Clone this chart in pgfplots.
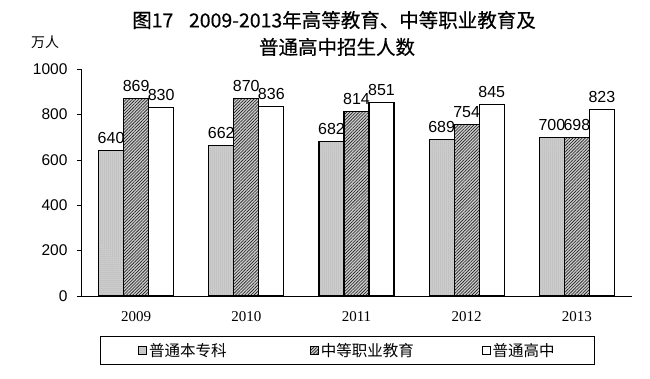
\documentclass[border=0pt]{standalone}
\usepackage{fontspec}
\usepackage{pgfplots}
\pgfplotsset{compat=1.18}
\usetikzlibrary{patterns.meta}
\setmainfont{Liberation Sans}
\newfontfamily\cjk{Noto Sans CJK SC}
\newfontfamily\cjkb[FakeBold=0.5]{Noto Sans CJK SC}
\newfontfamily\serifyear{Liberation Serif}
\begin{document}
\begin{tikzpicture}[x=1pt,y=1pt]
\path[use as bounding box] (0,0) rectangle (650,378);
\node[font=\cjkb\fontsize{19.5}{19.5}\selectfont] at (334,358) {图17\hspace{0.8em}2009-2013年高等教育、中等职业教育及};
\node[font=\cjkb\fontsize{19.5}{19.5}\selectfont] at (337,331) {普通高中招生人数};
\node[font=\cjk\fontsize{14}{14}\selectfont] at (45,336) {万人};
\begin{axis}[
  at={(81pt,82pt)}, anchor=south west,
  scale only axis, width=551pt, height=227pt,
  xmin=-0.5, xmax=4.5, ymin=0, ymax=1000,
  ytick={0,200,...,1000},
  axis x line*=bottom, axis y line*=left,
  axis line style={black, line width=0.6pt, -},
  xtick={0,1,2,3,4},
  xticklabels={2009,2010,2011,2012,2013},
  xtick style={draw=none},
  extra x ticks={0.5,1.5,2.5,3.5,4.5},
  extra x tick labels={},
  extra x tick style={major tick length=4pt, tick align=center, tick style={black, line width=0.5pt}},
  xticklabel style={font=\serifyear\fontsize{15}{15}\selectfont, yshift=-8pt},
  ytick style={black, line width=0.6pt},
  tick align=outside, major tick length=4pt,
  yticklabel style={font=\fontsize{15.5}{15.5}\selectfont, xshift=-6pt},
  /pgf/number format/assume math mode=true,
  /pgf/number format/1000 sep={},
  ybar, bar width=0.227,
  nodes near coords,
  every node near coord/.append style={font=\fontsize{16}{16}\selectfont, yshift=3pt, black},
  legend columns=3,
  legend style={at={(0.0345,-0.304)}, anchor=south west, draw=black, line width=0.8pt,
    font=\cjk\fontsize{15.5}{15.5}\selectfont, inner xsep=38pt, inner ysep=5pt},
  legend image code/.code={\draw[#1, line width=0.7pt] (0pt,-4pt) rectangle (8pt,4pt);},
]
\addplot[bar shift=-0.227, draw=black, line width=1.1pt, fill=gray!35,
  postaction={pattern={Dots[distance=2pt,radius=0.5pt]}, pattern color=gray!90}]
  coordinates {(0,640)(1,662)(2,682)(3,689)(4,700)};
\addlegendentry{\makebox[159pt][l]{普通本专科}}
\addplot[bar shift=0, draw=black, line width=1.1pt, fill=gray!40,
  postaction={pattern={Lines[angle=45,distance=2.2pt,line width=0.6pt]}, pattern color=gray!20!black}]
  coordinates {(0,869)(1,870)(2,814)(3,754)(4,698)};
\addlegendentry{\makebox[159pt][l]{中等职业教育}}
\addplot[bar shift=0.227, draw=black, line width=1.1pt, fill=white]
  coordinates {(0,830)(1,836)(2,851)(3,845)(4,823)};
\addlegendentry{普通高中}
\end{axis}
\end{tikzpicture}
\end{document}
